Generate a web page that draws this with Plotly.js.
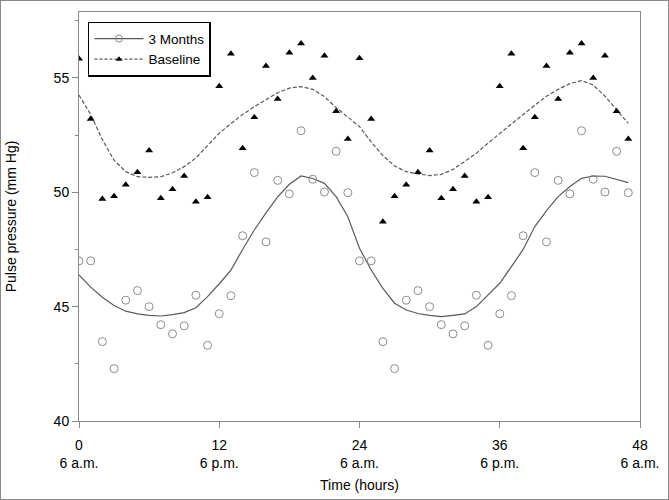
<!DOCTYPE html>
<html><head><meta charset="utf-8">
<script src="https://cdn.plot.ly/plotly-3.0.1.min.js"></script>
<style>html,body{margin:0;padding:0;background:#fff}#wrap{position:relative;width:669px;height:500px}#chart{width:669px;height:500px}#frame{position:absolute;left:0;top:0;width:669px;height:500px;box-sizing:border-box;border:1px solid #8a8a8a;pointer-events:none}</style>
</head><body><div id="wrap"><div id="chart"></div><div id="frame"></div></div>
<script>
const hours = [0,1,2,3,4,5,6,7,8,9,10,11,12,13,14,15,16,17,18,19,20,21,22,23,24,25,26,27,28,29,30,31,32,33,34,35,36,37,38,39,40,41,42,43,44,45,46,47];
const baselineObs = [55.84,53.2,49.71,49.82,50.33,50.87,51.82,49.74,50.13,50.71,49.59,49.78,54.63,56.06,51.92,53.28,55.52,54.08,56.1,56.5,55.0,55.97,53.54,52.33,
  55.86,53.2,48.71,49.82,50.33,50.87,51.82,49.74,50.13,50.71,49.59,49.78,54.63,56.06,51.92,53.28,55.52,54.08,56.1,56.5,55.0,55.97,53.54,52.33];
const monthsObs = [47.0,47.0,43.47,42.29,45.28,45.7,45.0,44.21,43.81,44.16,45.5,43.31,44.69,45.48,48.1,50.86,47.83,50.52,49.93,52.69,50.57,50.01,51.79,49.98,
  47.0,47.0,43.47,42.29,45.28,45.7,45.0,44.21,43.81,44.16,45.5,43.31,44.69,45.48,48.1,50.86,47.83,50.52,49.93,52.69,50.57,50.01,51.79,49.98];
const baselineFit = [54.25,53.4,52.3,51.4,50.9,50.68,50.65,50.68,50.85,51.12,51.5,52.05,52.58,53.0,53.4,53.74,54.05,54.35,54.55,54.62,54.5,54.18,53.7,53.3,
  52.87,52.2,51.6,51.15,50.9,50.8,50.73,50.78,51.0,51.35,51.7,52.15,52.58,53.0,53.4,53.8,54.2,54.5,54.75,54.88,54.69,54.2,53.6,53.01];
const monthsFit = [46.39,45.85,45.41,45.05,44.8,44.68,44.62,44.59,44.65,44.74,44.95,45.44,46.0,46.6,47.5,48.35,49.1,49.8,50.35,50.71,50.6,50.39,49.81,48.93,
  47.55,46.6,45.8,45.15,44.85,44.7,44.62,44.56,44.62,44.68,45.0,45.5,46.02,46.75,47.5,48.5,49.2,49.81,50.25,50.61,50.71,50.7,50.55,50.42];
const xTickVals = [0,12,24,36,48];
const xTickText = ['0<br>6 a.m.','12<br>6 p.m.','24<br>6 a.m.','36<br>6 p.m.','48<br>6 a.m.'];
const yTickVals = [40,45,50,55];

const lineGrey = '#5a5a5a';
const circGrey = '#8c8c8c';
const traces = [
  {x: hours, y: baselineFit, mode: 'lines', line: {color: lineGrey, width: 1.2, dash: '4px,2px'}, showlegend: false, hoverinfo: 'skip'},
  {x: hours, y: monthsFit, mode: 'lines', line: {color: lineGrey, width: 1.2}, showlegend: false, hoverinfo: 'skip'},
  {x: hours, y: baselineObs, mode: 'markers', marker: {symbol: 'triangle-up', size: 7, color: '#000'}, showlegend: false},
  {x: hours, y: monthsObs, mode: 'markers', marker: {symbol: 'circle-open', size: 8, color: circGrey, line: {width: 1, color: circGrey}}, showlegend: false},
  {x: [null], y: [null], name: '3 Months', mode: 'lines+markers', line: {color: lineGrey, width: 1.2}, marker: {symbol: 'circle-open', size: 7, color: circGrey, line: {width: 1, color: circGrey}}},
  {x: [null], y: [null], name: 'Baseline', mode: 'lines+markers', line: {color: lineGrey, width: 1.2, dash: '3px,2px'}, marker: {symbol: 'triangle-up', size: 6, color: '#000'}}
];
const layout = {
  width: 669, height: 500,
  margin: {l: 79, r: 29, t: 12, b: 79},
  paper_bgcolor: '#fff', plot_bgcolor: '#fff',
  font: {family: 'Liberation Sans, Arial, sans-serif', size: 14, color: '#000'},
  showlegend: true,
  legend: {x: 0.016, y: 0.976, xanchor: 'left', yanchor: 'top', bordercolor: '#000', borderwidth: 1.5, bgcolor: '#fff',
    font: {size: 13.5}, tracegroupgap: 0, itemwidth: 49},
  xaxis: {range: [0, 48], tickvals: xTickVals, ticktext: xTickText, ticks: 'outside', ticklen: 6, tickcolor: '#888',
    ticklabelstandoff: 5,
    showline: true, linecolor: '#888', linewidth: 1, mirror: true, showgrid: false, zeroline: false,
    title: {text: 'Time (hours)', font: {size: 14}, standoff: 10}},
  yaxis: {range: [40, 57.88], tickvals: yTickVals, ticks: 'outside', ticklen: 6, tickcolor: '#888',
    minor: {dtick: 2.5, tick0: 40, ticks: 'outside', ticklen: 3, tickcolor: '#888', showgrid: false},
    showline: true, linecolor: '#888', linewidth: 1, mirror: true, showgrid: false, zeroline: false,
    title: {text: 'Pulse pressure (mm Hg)', font: {size: 14}, standoff: 33}}
};
Plotly.newPlot('chart', traces, layout, {staticPlot: true});
</script></body></html>
